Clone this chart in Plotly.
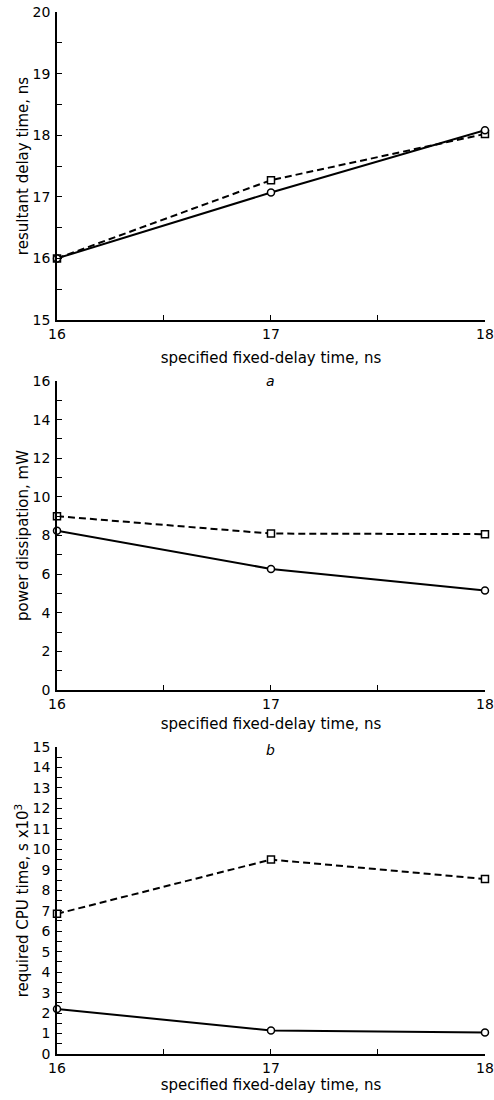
import plotly.graph_objects as go

# ---- data ----
x_delay = [16, 17, 18]
a_circle = [16.0, 17.07, 18.08]
a_square = [16.0, 17.27, 18.02]
b_circle = [8.25, 6.27, 5.15]
b_square = [9.0, 8.1, 8.07]
c_circle = [2.2, 1.15, 1.05]
c_square = [6.85, 9.5, 8.55]

x_title = "specified fixed-delay time, ns"
y_titles = ["resultant delay time, ns", "power dissipation, mW",
            "required CPU time, s x10<sup>3</sup>"]
panel_labels = ["a", "b"]

W, H = 494, 1100
FONT = "DejaVu Sans"

fig = go.Figure()

def add_pair(circ, sq, xa, ya):
    fig.add_trace(go.Scatter(
        x=x_delay, y=sq, mode="lines+markers", xaxis=xa, yaxis=ya,
        line=dict(color="black", width=2, dash="7px,4px"),
        marker=dict(symbol="square", size=7, color="white",
                    line=dict(color="black", width=1.5)),
        cliponaxis=False, showlegend=False))
    fig.add_trace(go.Scatter(
        x=x_delay, y=circ, mode="lines+markers", xaxis=xa, yaxis=ya,
        line=dict(color="black", width=2),
        marker=dict(symbol="circle", size=7, color="white",
                    line=dict(color="black", width=1.5)),
        cliponaxis=False, showlegend=False))

add_pair(a_circle, a_square, "x", "y")
add_pair(b_circle, b_square, "x2", "y2")
add_pair(c_circle, c_square, "x3", "y3")

xdom = [57 / W, 485 / W]
def ydom(top_px, bot_px):
    return [1 - bot_px / H, 1 - top_px / H]

tickfont = dict(family=FONT, size=14, color="black")
titlefont = dict(family=FONT, size=15, color="black")

def xaxis_cfg(anchor, standoff):
    return dict(domain=xdom, anchor=anchor, range=[16, 18.0001],
                tickvals=x_delay, ticktext=[str(v) for v in x_delay],
                ticks="inside", ticklen=5, tickwidth=1.2, tickcolor="black",
                minor=dict(ticks="inside", dtick=0.5, tick0=16, ticklen=5,
                           tickwidth=1.2, tickcolor="black"),
                showline=True, linecolor="black", linewidth=1.5,
                showgrid=False, zeroline=False, tickfont=tickfont,
                ticklabeloverflow="allow", automargin=False,
                title=dict(text=x_title, font=titlefont, standoff=standoff))

def yaxis_cfg(anchor, dom, rng, dtick, minor_dtick, title, standoff):
    return dict(domain=dom, anchor=anchor, range=rng, dtick=dtick, tick0=0,
                ticks="inside", ticklen=5, tickwidth=1.2, tickcolor="black",
                minor=dict(ticks="inside", dtick=minor_dtick, tick0=0, ticklen=5,
                           tickwidth=1.2, tickcolor="black"),
                showline=True, linecolor="black", linewidth=1.5,
                showgrid=False, zeroline=False, tickfont=tickfont,
                ticklabelstandoff=2, ticklabeloverflow="allow", automargin=False,
                title=dict(text=title, font=titlefont, standoff=standoff))

fig.update_layout(
    width=W, height=H,
    margin=dict(l=0, r=0, t=0, b=0),
    paper_bgcolor="white", plot_bgcolor="white",
    xaxis=xaxis_cfg("y", 12),
    yaxis=yaxis_cfg("x", ydom(12, 320), [15, 20], 1, 0.5, y_titles[0], 0),
    xaxis2=xaxis_cfg("y2", 8),
    yaxis2=yaxis_cfg("x2", ydom(381, 690), [0, 16], 2, 1, y_titles[1], 0),
    xaxis3=xaxis_cfg("y3", 3),
    yaxis3=yaxis_cfg("x3", ydom(747, 1054), [0, 15], 1, 0.5, y_titles[2], 0),
    annotations=[
        dict(text="<i>" + panel_labels[0] + "</i>", x=17, xref="x",
             y=1 - 381 / H, yref="paper", yanchor="middle", showarrow=False,
             font=dict(family=FONT, size=14, color="black")),
        dict(text="<i>" + panel_labels[1] + "</i>", x=17, xref="x",
             y=1 - 750 / H, yref="paper", yanchor="middle", showarrow=False,
             font=dict(family=FONT, size=14, color="black")),
    ],
)

fig.write_html("out.html")
